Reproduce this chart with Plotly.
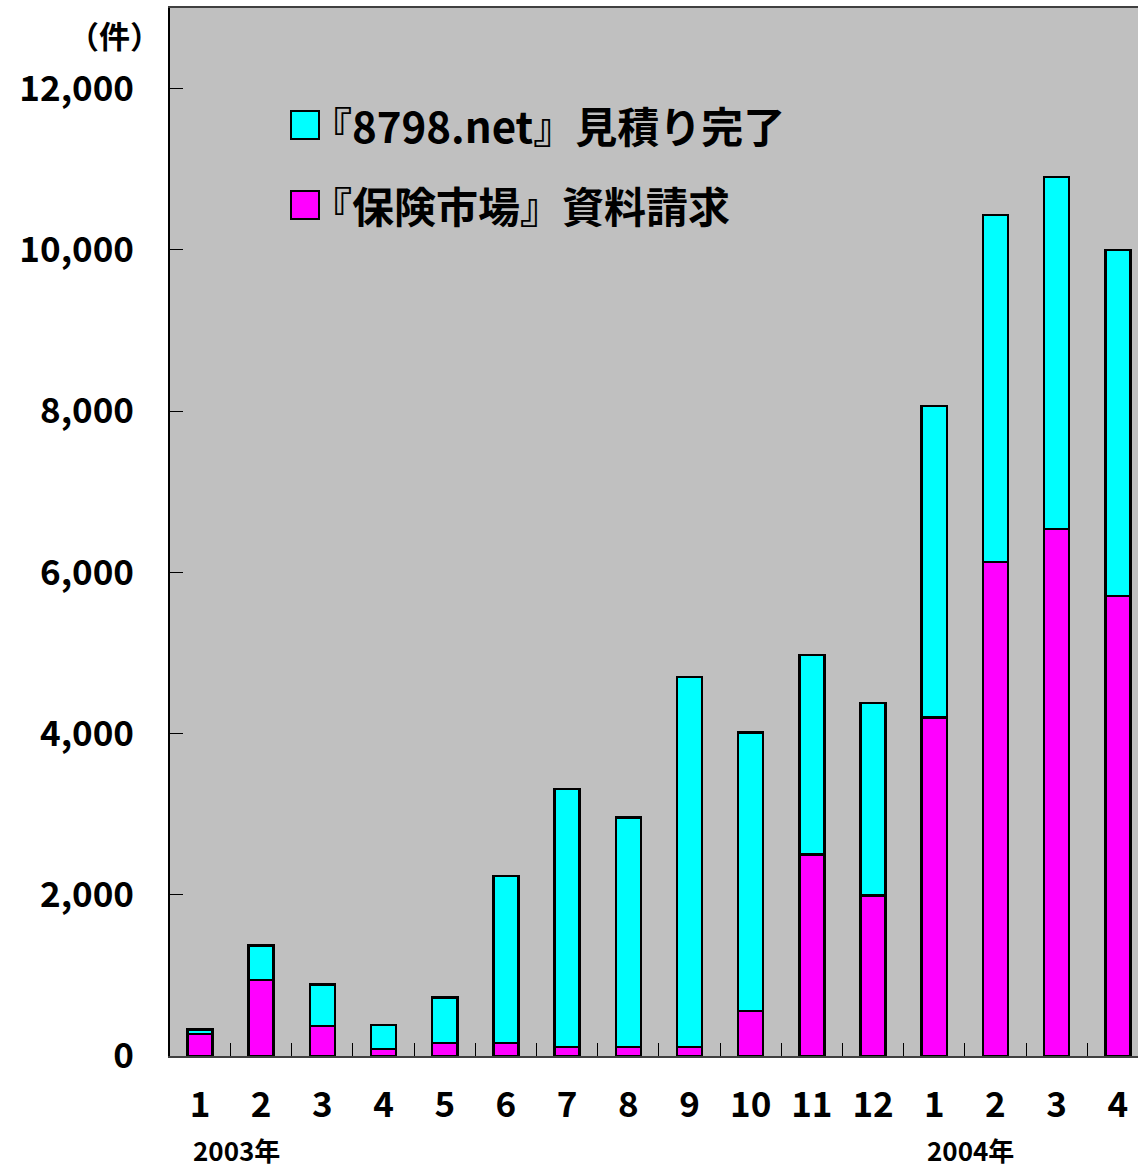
import plotly.graph_objects as go

months = ["1", "2", "3", "4", "5", "6", "7", "8", "9", "10", "11", "12", "1", "2", "3", "4"]
totals = [330, 1370, 885, 385, 725, 2230, 3310, 2960, 4700, 4010, 4975, 4380, 8065, 10435, 10905, 10000]
shiryo = [270, 945, 375, 85, 160, 160, 110, 110, 110, 560, 2500, 1990, 4200, 6130, 6535, 5705]
mitsumori = [t - s for t, s in zip(totals, shiryo)]
series_names = ["『8798.net』見積り完了", "『保険市場』資料請求"]
year_labels = ["2003年", "2004年"]
year_pos = [0.6, 12.6]
y_ticks = [0, 2000, 4000, 6000, 8000, 10000, 12000]

FONT = "Noto Sans CJK JP"
x = list(range(len(months)))

fig = go.Figure()
fig.add_trace(go.Bar(x=x, y=shiryo, name=series_names[1], width=0.41,
                     marker=dict(color="#FF00FF", line=dict(color="black", width=2.5)),
                     showlegend=False))
fig.add_trace(go.Bar(x=x, y=mitsumori, name=series_names[0], width=0.41,
                     marker=dict(color="#00FFFF", line=dict(color="black", width=2.5)),
                     showlegend=False))

fig.update_layout(
    barmode="stack",
    width=1138, height=1170,
    margin=dict(l=170, r=0, t=8, b=114, autoexpand=False),
    paper_bgcolor="white",
    plot_bgcolor="#C0C0C0",
    font=dict(family=FONT, color="black"),
)
fig.update_xaxes(
    range=[-0.49, 15.33], automargin=False,
    tickmode="array", tickvals=x, ticktext=months,
    ticks="", tickfont=dict(size=35, family=FONT, weight="bold"),
    ticklabelstandoff=17,
    showgrid=False, zeroline=False,
    showline=True, linecolor="#404040", linewidth=2, mirror=True,
    minor=dict(tick0=0.5, dtick=1, ticks="inside", ticklen=13, tickcolor="black", tickwidth=1, showgrid=False),
)
fig.update_yaxes(
    range=[0, 13000], automargin=False,
    tickmode="array", tickvals=y_ticks, tickformat=",",
    ticks="inside", ticklen=13, tickcolor="black", tickwidth=1,
    tickfont=dict(size=35, family=FONT, weight="bold"),
    ticklabelstandoff=27,
    showgrid=False, zeroline=False,
    showline=True, linecolor="black", linewidth=2,
)

# legend drawn manually (large squares)
leg_colors = ["#00FFFF", "#FF00FF"]
leg_y = [125, 205]
for name, col, yc in zip(series_names, leg_colors, leg_y):
    fig.add_shape(type="rect", xref="paper", yref="paper",
                  x0=(291 - 170) / 968, x1=(319 - 170) / 968,
                  y0=(1056 - (yc + 14)) / 1048, y1=(1056 - (yc - 14)) / 1048,
                  fillcolor=col, line=dict(color="black", width=2))
    fig.add_annotation(xref="paper", yref="paper",
                       x=(308 - 170) / 968, y=(1056 - yc) / 1048,
                       xanchor="left", yanchor="middle", showarrow=False,
                       text=name, font=dict(size=42, family=FONT, weight="bold", color="black"))

for lab, pos in zip(year_labels, year_pos):
    fig.add_annotation(x=pos, xref="x", y=(1056 - 1149) / 1048, yref="paper",
                       text=lab, showarrow=False, xanchor="center", yanchor="middle",
                       font=dict(size=26, family=FONT, weight="bold"))

fig.add_annotation(xref="paper", yref="paper", x=(114 - 170) / 968, y=(1056 - 35) / 1048,
                   text="（件）", showarrow=False, xanchor="center", yanchor="middle",
                   font=dict(size=31, family=FONT, weight="bold"))

fig.write_html("out.html", config={"displayModeBar": False},
               post_script="document.body.style.margin='0';document.body.style.overflow='hidden';")
